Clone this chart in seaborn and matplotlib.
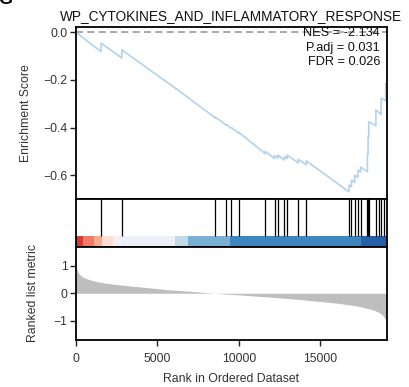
import matplotlib
matplotlib.use("Agg")
import matplotlib.pyplot as plt
import seaborn as sns
import numpy as np
import pandas as pd

# ---------------- data ----------------
title = "WP_CYTOKINES_AND_INFLAMMATORY_RESPONSE"
n_genes = 19050

es_rank = [0, 1540, 1540, 2810, 2810, 6400, 8550, 8550, 9210, 9210, 9530, 9530,
           9980, 9980, 11620, 11620, 12180, 12180, 12380, 12380, 12790, 12790,
           12960, 12960, 13640, 13640, 14130, 14130, 16750, 16750, 16900, 16900,
           17100, 17100, 17300, 17300, 17460, 17460, 17880, 17880, 17920, 17920,
           17960, 17960, 18400, 18400, 18720, 18720, 19000, 19000, 19050]
es_score = [0.0, -0.082, -0.046, -0.108, -0.074, -0.250, -0.360, -0.356, -0.390, -0.387,
            -0.402, -0.400, -0.423, -0.420, -0.510, -0.500, -0.530, -0.518, -0.528, -0.516,
            -0.536, -0.522, -0.530, -0.516, -0.548, -0.534, -0.556, -0.540, -0.670, -0.642,
            -0.649, -0.621, -0.630, -0.600, -0.609, -0.579, -0.586, -0.566, -0.585, -0.510,
            -0.512, -0.440, -0.442, -0.376, -0.392, -0.326, -0.345, -0.277, -0.288, -0.214,
            -0.216]

hit_ranks = [1540, 2810, 8550, 9210, 9530, 9980, 11620, 12180, 12380, 12790, 12960,
             13640, 14130, 16750, 16900, 17100, 17300, 17460, 17880, 17920, 17960,
             18400, 18560, 18720, 18880]

metric_rank = [0, 40, 160, 370, 680, 1190, 1700, 2710, 3740, 4760, 5790, 6600, 7500,
               8430, 10000, 11930, 13980, 16030, 17260, 18080, 18490, 18800, 19000, 19050]
metric_value = [0.90, 0.88, 0.72, 0.60, 0.52, 0.43, 0.375, 0.30, 0.24, 0.18, 0.12, 0.09,
                0.05, 0.0, -0.06, -0.14, -0.24, -0.36, -0.46, -0.58, -0.66, -0.78, -0.96, -1.0]

bar_edges = [0, 450, 1125, 1580, 2290, 2810, 6090, 6870, 9470, 17460, 19050]
bar_colors = ['#d83b36', '#f07c66', '#f6ab8f', '#fcdfd0', '#f3f1f7', '#edf0f9',
              '#c2d9e8', '#78b0d6', '#3d86bf', '#2660a6']

stats_text = ["NES = -2.134", "P.adj = 0.031", "FDR = 0.026"]

es_ticks = [0.0, -0.2, -0.4, -0.6]
metric_ticks = [-1, 0, 1]
x_ticks = [0, 5000, 10000, 15000]

# ---------------- style ----------------
sns.set_theme(style="white")
plt.rcParams['font.family'] = ['Liberation Sans', 'DejaVu Sans']
plt.rcParams['axes.linewidth'] = 1.3
plt.rcParams['xtick.major.width'] = 1.0
plt.rcParams['ytick.major.width'] = 1.0

W, H = 409, 387
fig = plt.figure(figsize=(W / 100, H / 100), dpi=100)

def fx(px):
    return px / W

def fy(py):
    return 1 - py / H

x0, x1 = 76, 386.5
ax_es = fig.add_axes([fx(x0), fy(199), fx(x1) - fx(x0), fy(27) - fy(199)])
ax_hit = fig.add_axes([fx(x0), fy(247), fx(x1) - fx(x0), fy(199) - fy(247)])
ax_met = fig.add_axes([fx(x0), fy(339.5), fx(x1) - fx(x0), fy(247) - fy(339.5)])

tick_fs = 8.8
label_fs = 8.8

# --- ES panel ---
es_df = pd.DataFrame({"rank": es_rank, "es": es_score})
ax_es.axhline(0, color='#9a9a9a', lw=1.2, ls=(0, (4.2, 2.6)), zorder=1)
sns.lineplot(data=es_df, x="rank", y="es", ax=ax_es, estimator=None, sort=False,
             color='#b3d2ee', lw=1.2, zorder=2)
ax_es.set_xlim(0, n_genes)
ax_es.set_ylim(-0.70, 0.022)
ax_es.set_yticks(es_ticks)
ax_es.set_yticklabels([f"{t:.1f}".replace("-", "\u2212") for t in es_ticks], fontsize=tick_fs)
ax_es.set_xticks([])
ax_es.set_xlabel("")
ax_es.set_ylabel("Enrichment Score", fontsize=label_fs, color='#333333')
ax_es.tick_params(axis='y', left=True, length=4, pad=2, colors='#222222', labelcolor='#333333')
ax_es.set_title(title, fontsize=9.8, pad=5, color='#111111')
for i, s in enumerate(stats_text):
    ax_es.text(0.979, 0.965 - i * 0.0843, s, transform=ax_es.transAxes, ha='right', va='center',
               fontsize=9.2, color='#111111', zorder=3)

# --- hits / color bar panel ---
ax_hit.vlines(hit_ranks, 0.23, 1, color='black', lw=0.9)
for i, c in enumerate(bar_colors):
    ax_hit.axvspan(bar_edges[i], bar_edges[i + 1], ymin=0, ymax=0.23, color=c, lw=0)
ax_hit.set_xlim(0, n_genes)
ax_hit.set_ylim(0, 1)
ax_hit.set_xticks([])
ax_hit.set_yticks([])

# --- ranked metric panel ---
ax_met.fill_between(metric_rank, 0, metric_value, color='#bebebe', lw=0)
ax_met.set_xlim(0, n_genes)
ax_met.set_ylim(-1.67, 1.67)
ax_met.set_yticks(metric_ticks)
ax_met.set_yticklabels([str(t).replace("-", "\u2212") for t in metric_ticks], fontsize=tick_fs)
ax_met.set_xticks(x_ticks)
ax_met.set_xticklabels([str(t) for t in x_ticks], fontsize=tick_fs)
ax_met.tick_params(axis='y', left=True, length=4, pad=2,
                   colors='#222222', labelcolor='#333333')
ax_met.tick_params(axis='x', bottom=True, length=4.5, pad=5,
                   colors='#222222', labelcolor='#333333')
ax_met.set_ylabel("Ranked list metric", fontsize=label_fs, color='#333333')
ax_met.set_xlabel("Rank in Ordered Dataset", fontsize=label_fs, color='#333333', labelpad=6)

for ax in (ax_es, ax_hit, ax_met):
    for sp in ax.spines.values():
        sp.set_color('black')
        sp.set_linewidth(1.3)

# y label positions as in the reference
ax_es.yaxis.set_label_coords(-0.142, 0.5)
ax_met.yaxis.set_label_coords(-0.12, 0.5)

# partial panel letter at the very top-left corner (cut off in the reference too)
fig.text(fx(-2), fy(4), "G", fontsize=13, fontweight='bold', ha='left', va='baseline', color='black')

fig.savefig("out.png", dpi=100)
